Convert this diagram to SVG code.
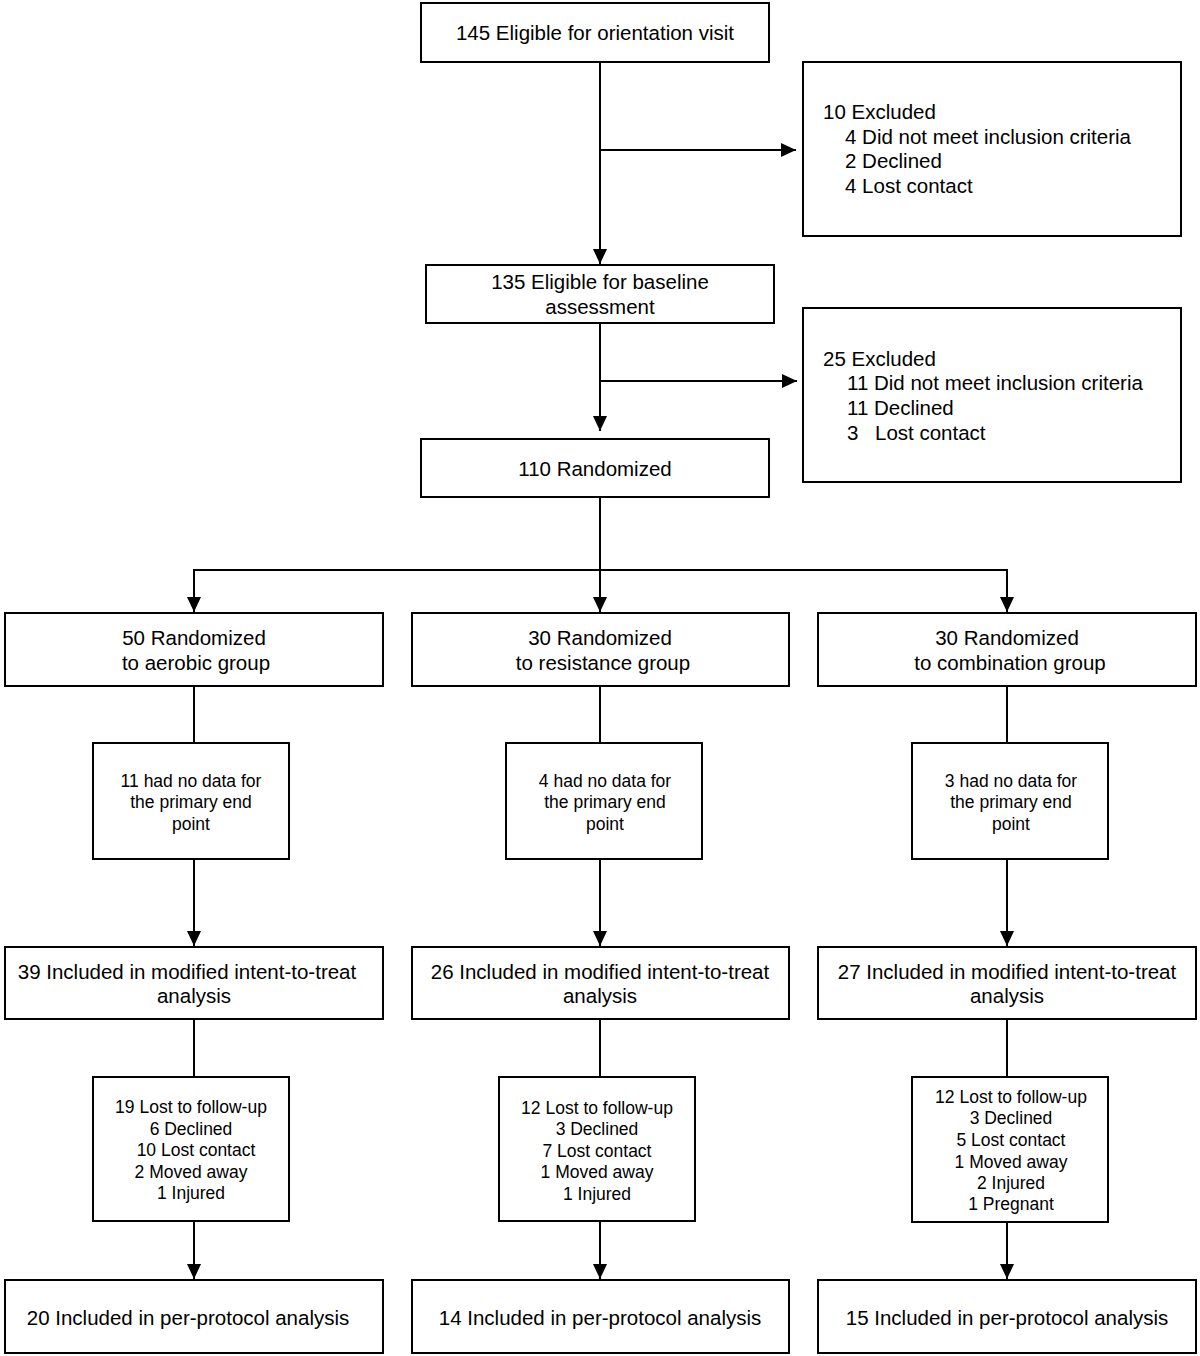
<svg xmlns="http://www.w3.org/2000/svg" width="1200" height="1356" viewBox="0 0 1200 1356">
<style>
.box{fill:#fff;stroke:#000;stroke-width:2}
.ln{fill:none;stroke:#000;stroke-width:2}
text{font-family:"Liberation Sans",Arial,sans-serif;fill:#000}
.t{font-size:20.5px;text-anchor:middle}
.tl{font-size:20.5px}
.s{font-size:17.5px;text-anchor:middle}
</style>
<defs>
<marker id="ah" markerUnits="userSpaceOnUse" markerWidth="15" markerHeight="14" refX="15" refY="7" orient="auto">
<path d="M0,0 L15,7 L0,14 Z" fill="#000"/>
</marker>
</defs>
<rect width="1200" height="1356" fill="#fff"/>
<g id="connectors">
<line class="ln" x1="600" y1="62" x2="600" y2="264" marker-end="url(#ah)"/>
<line class="ln" x1="600" y1="150" x2="796" y2="150" marker-end="url(#ah)"/>
<line class="ln" x1="600" y1="323" x2="600" y2="431" marker-end="url(#ah)"/>
<line class="ln" x1="600" y1="381" x2="797" y2="381" marker-end="url(#ah)"/>
<line class="ln" x1="600" y1="497" x2="600" y2="570"/>
<line class="ln" x1="194" y1="570" x2="1007" y2="570"/>
<line class="ln" x1="194" y1="569" x2="194" y2="612" marker-end="url(#ah)"/>
<line class="ln" x1="600" y1="569" x2="600" y2="612" marker-end="url(#ah)"/>
<line class="ln" x1="1007" y1="569" x2="1007" y2="612" marker-end="url(#ah)"/>
<line class="ln" x1="194" y1="686" x2="194" y2="743"/>
<line class="ln" x1="600" y1="686" x2="600" y2="743"/>
<line class="ln" x1="1007" y1="686" x2="1007" y2="743"/>
<line class="ln" x1="194" y1="859" x2="194" y2="946" marker-end="url(#ah)"/>
<line class="ln" x1="600" y1="859" x2="600" y2="946" marker-end="url(#ah)"/>
<line class="ln" x1="1007" y1="859" x2="1007" y2="946" marker-end="url(#ah)"/>
<line class="ln" x1="194" y1="1019" x2="194" y2="1077"/>
<line class="ln" x1="600" y1="1019" x2="600" y2="1077"/>
<line class="ln" x1="1007" y1="1019" x2="1007" y2="1077"/>
<line class="ln" x1="194" y1="1221" x2="194" y2="1279" marker-end="url(#ah)"/>
<line class="ln" x1="600" y1="1221" x2="600" y2="1279" marker-end="url(#ah)"/>
<line class="ln" x1="1007" y1="1222" x2="1007" y2="1279" marker-end="url(#ah)"/>
</g>
<g id="n-orientation">
<rect class="box" x="421" y="3" width="348" height="59"/>
<text class="t" x="595" y="40">145 Eligible for orientation visit</text>
</g>
<g id="n-excluded1">
<rect class="box" x="803" y="62" width="378" height="174"/>
<text class="tl" x="823" y="119">10 Excluded</text>
<text class="tl" x="845" y="144">4 Did not meet inclusion criteria</text>
<text class="tl" x="845" y="168">2 Declined</text>
<text class="tl" x="845" y="193">4 Lost contact</text>
</g>
<g id="n-baseline">
<rect class="box" x="426" y="265" width="348" height="58"/>
<text class="t" x="600" y="289">135 Eligible for baseline</text>
<text class="t" x="600" y="314">assessment</text>
</g>
<g id="n-excluded2">
<rect class="box" x="803" y="308" width="378" height="174"/>
<text class="tl" x="823" y="366">25 Excluded</text>
<text class="tl" x="847" y="390">11 Did not meet inclusion criteria</text>
<text class="tl" x="847" y="415">11 Declined</text>
<text class="tl" y="440"><tspan x="847">3</tspan><tspan x="875">Lost contact</tspan></text>
</g>
<g id="n-randomized">
<rect class="box" x="421" y="439" width="348" height="58"/>
<text class="t" x="595" y="476">110 Randomized</text>
</g>
<g id="n-aerobic">
<rect class="box" x="5" y="613" width="378" height="73"/>
<text class="t" x="194" y="645">50 Randomized</text>
<text class="t" x="196" y="670">to aerobic group</text>
</g>
<g id="n-resistance">
<rect class="box" x="412" y="613" width="377" height="73"/>
<text class="t" x="600" y="645">30 Randomized</text>
<text class="t" x="603" y="670">to resistance group</text>
</g>
<g id="n-combination">
<rect class="box" x="818" y="613" width="378" height="73"/>
<text class="t" x="1007" y="645">30 Randomized</text>
<text class="t" x="1010" y="670">to combination group</text>
</g>
<g id="n-nodata-aerobic">
<rect class="box" x="93" y="743" width="196" height="116"/>
<text class="s" x="191" y="787">11 had no data for</text>
<text class="s" x="191" y="808">the primary end</text>
<text class="s" x="191" y="830">point</text>
</g>
<g id="n-nodata-resistance">
<rect class="box" x="506" y="743" width="196" height="116"/>
<text class="s" x="605" y="787">4 had no data for</text>
<text class="s" x="605" y="808">the primary end</text>
<text class="s" x="605" y="830">point</text>
</g>
<g id="n-nodata-combination">
<rect class="box" x="912" y="743" width="196" height="116"/>
<text class="s" x="1011" y="787">3 had no data for</text>
<text class="s" x="1011" y="808">the primary end</text>
<text class="s" x="1011" y="830">point</text>
</g>
<g id="n-itt-aerobic">
<rect class="box" x="5" y="947" width="378" height="72"/>
<text class="t" x="187" y="979">39 Included in modified intent-to-treat</text>
<text class="t" x="194" y="1003">analysis</text>
</g>
<g id="n-itt-resistance">
<rect class="box" x="412" y="947" width="377" height="72"/>
<text class="t" x="600" y="979">26 Included in modified intent-to-treat</text>
<text class="t" x="600" y="1003">analysis</text>
</g>
<g id="n-itt-combination">
<rect class="box" x="818" y="947" width="378" height="72"/>
<text class="t" x="1007" y="979">27 Included in modified intent-to-treat</text>
<text class="t" x="1007" y="1003">analysis</text>
</g>
<g id="n-lost-aerobic">
<rect class="box" x="93" y="1077" width="196" height="144"/>
<text class="s" x="191" y="1113">19 Lost to follow-up</text>
<text class="s" x="191" y="1135">6 Declined</text>
<text class="s" x="196" y="1156">10 Lost contact</text>
<text class="s" x="191" y="1178">2 Moved away</text>
<text class="s" x="191" y="1199">1 Injured</text>
</g>
<g id="n-lost-resistance">
<rect class="box" x="499" y="1077" width="196" height="144"/>
<text class="s" x="597" y="1114">12 Lost to follow-up</text>
<text class="s" x="597" y="1135">3 Declined</text>
<text class="s" x="597" y="1157">7 Lost contact</text>
<text class="s" x="597" y="1178">1 Moved away</text>
<text class="s" x="597" y="1200">1 Injured</text>
</g>
<g id="n-lost-combination">
<rect class="box" x="912" y="1077" width="196" height="145"/>
<text class="s" x="1011" y="1103">12 Lost to follow-up</text>
<text class="s" x="1011" y="1124">3 Declined</text>
<text class="s" x="1011" y="1146">5 Lost contact</text>
<text class="s" x="1011" y="1168">1 Moved away</text>
<text class="s" x="1011" y="1189">2 Injured</text>
<text class="s" x="1011" y="1210">1 Pregnant</text>
</g>
<g id="n-pp-aerobic">
<rect class="box" x="5" y="1280" width="378" height="73"/>
<text class="t" x="188" y="1325">20 Included in per-protocol analysis</text>
</g>
<g id="n-pp-resistance">
<rect class="box" x="412" y="1280" width="377" height="73"/>
<text class="t" x="600" y="1325">14 Included in per-protocol analysis</text>
</g>
<g id="n-pp-combination">
<rect class="box" x="818" y="1280" width="378" height="73"/>
<text class="t" x="1007" y="1325">15 Included in per-protocol analysis</text>
</g>
</svg>
